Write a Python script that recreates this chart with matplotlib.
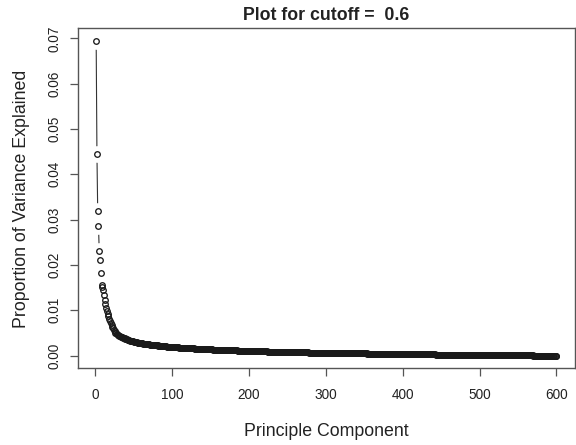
import numpy as np
import matplotlib
matplotlib.use("Agg")
import matplotlib.pyplot as plt

plt.rcParams['font.family'] = ['Liberation Sans', 'DejaVu Sans']

# proportion of variance explained, one value per principal component
prop_var = [
    0.06940, 0.04450, 0.03190, 0.02860, 0.02310, 0.02110, 0.01830, 0.01550, 0.01510, 0.01450,
    0.01340, 0.01220, 0.01140, 0.01060, 0.00990, 0.00920, 0.00870, 0.00810, 0.00770, 0.00720,
    0.00680, 0.00640, 0.00600, 0.00570, 0.00540, 0.00510, 0.00490, 0.00470, 0.00460, 0.00450,
    0.00440, 0.00430, 0.00420, 0.00412, 0.00404, 0.00396, 0.00388, 0.00380, 0.00372, 0.00365,
    0.00358, 0.00352, 0.00346, 0.00340, 0.00335, 0.00330, 0.00325, 0.00320, 0.00315, 0.00310,
    0.00306, 0.00302, 0.00298, 0.00294, 0.00290, 0.00287, 0.00284, 0.00281, 0.00278, 0.00275,
    0.00272, 0.00269, 0.00266, 0.00263, 0.00260, 0.00257, 0.00255, 0.00252, 0.00250, 0.00247,
    0.00245, 0.00243, 0.00241, 0.00239, 0.00237, 0.00235, 0.00233, 0.00231, 0.00229, 0.00227,
    0.00225, 0.00223, 0.00221, 0.00219, 0.00217, 0.00215, 0.00213, 0.00211, 0.00209, 0.00207,
    0.00205, 0.00204, 0.00202, 0.00200, 0.00199, 0.00197, 0.00196, 0.00194, 0.00193, 0.00191,
    0.00190, 0.00189, 0.00187, 0.00186, 0.00185, 0.00183, 0.00182, 0.00181, 0.00180, 0.00178,
    0.00177, 0.00176, 0.00175, 0.00174, 0.00172, 0.00171, 0.00170, 0.00169, 0.00168, 0.00167,
    0.00166, 0.00165, 0.00164, 0.00163, 0.00162, 0.00161, 0.00160, 0.00159, 0.00158, 0.00157,
    0.00156, 0.00155, 0.00154, 0.00153, 0.00152, 0.00151, 0.00150, 0.00149, 0.00148, 0.00147,
    0.00146, 0.00145, 0.00145, 0.00144, 0.00143, 0.00142, 0.00141, 0.00140, 0.00140, 0.00139,
    0.00138, 0.00137, 0.00136, 0.00136, 0.00135, 0.00134, 0.00133, 0.00133, 0.00132, 0.00131,
    0.00130, 0.00130, 0.00129, 0.00128, 0.00127, 0.00127, 0.00126, 0.00125, 0.00125, 0.00124,
    0.00123, 0.00123, 0.00122, 0.00121, 0.00121, 0.00120, 0.00119, 0.00119, 0.00118, 0.00117,
    0.00117, 0.00116, 0.00115, 0.00115, 0.00114, 0.00113, 0.00113, 0.00112, 0.00111, 0.00111,
    0.00110, 0.00110, 0.00109, 0.00108, 0.00108, 0.00107, 0.00107, 0.00106, 0.00105, 0.00105,
    0.00104, 0.00104, 0.00103, 0.00103, 0.00102, 0.00101, 0.00101, 0.00100, 0.00100, 0.00099,
    0.00099, 0.00098, 0.00098, 0.00097, 0.00097, 0.00096, 0.00096, 0.00095, 0.00095, 0.00094,
    0.00094, 0.00093, 0.00093, 0.00092, 0.00092, 0.00091, 0.00091, 0.00090, 0.00090, 0.00089,
    0.00089, 0.00089, 0.00088, 0.00088, 0.00087, 0.00087, 0.00086, 0.00086, 0.00086, 0.00085,
    0.00085, 0.00084, 0.00084, 0.00083, 0.00083, 0.00083, 0.00082, 0.00082, 0.00081, 0.00081,
    0.00081, 0.00080, 0.00080, 0.00079, 0.00079, 0.00079, 0.00078, 0.00078, 0.00077, 0.00077,
    0.00077, 0.00076, 0.00076, 0.00075, 0.00075, 0.00075, 0.00074, 0.00074, 0.00074, 0.00073,
    0.00073, 0.00073, 0.00072, 0.00072, 0.00071, 0.00071, 0.00071, 0.00070, 0.00070, 0.00070,
    0.00069, 0.00069, 0.00069, 0.00068, 0.00068, 0.00068, 0.00067, 0.00067, 0.00067, 0.00066,
    0.00066, 0.00066, 0.00065, 0.00065, 0.00065, 0.00064, 0.00064, 0.00064, 0.00063, 0.00063,
    0.00063, 0.00063, 0.00062, 0.00062, 0.00062, 0.00061, 0.00061, 0.00061, 0.00061, 0.00060,
    0.00060, 0.00060, 0.00059, 0.00059, 0.00059, 0.00059, 0.00058, 0.00058, 0.00058, 0.00057,
    0.00057, 0.00057, 0.00057, 0.00056, 0.00056, 0.00056, 0.00055, 0.00055, 0.00055, 0.00055,
    0.00054, 0.00054, 0.00054, 0.00054, 0.00053, 0.00053, 0.00053, 0.00052, 0.00052, 0.00052,
    0.00052, 0.00051, 0.00051, 0.00051, 0.00051, 0.00050, 0.00050, 0.00050, 0.00050, 0.00049,
    0.00049, 0.00049, 0.00049, 0.00048, 0.00048, 0.00048, 0.00048, 0.00047, 0.00047, 0.00047,
    0.00047, 0.00046, 0.00046, 0.00046, 0.00046, 0.00045, 0.00045, 0.00045, 0.00045, 0.00044,
    0.00044, 0.00044, 0.00044, 0.00043, 0.00043, 0.00043, 0.00043, 0.00042, 0.00042, 0.00042,
    0.00042, 0.00041, 0.00041, 0.00041, 0.00041, 0.00040, 0.00040, 0.00040, 0.00040, 0.00039,
    0.00039, 0.00039, 0.00039, 0.00038, 0.00038, 0.00038, 0.00038, 0.00037, 0.00037, 0.00037,
    0.00037, 0.00036, 0.00036, 0.00036, 0.00036, 0.00035, 0.00035, 0.00035, 0.00035, 0.00034,
    0.00034, 0.00034, 0.00034, 0.00033, 0.00033, 0.00033, 0.00033, 0.00032, 0.00032, 0.00032,
    0.00032, 0.00031, 0.00031, 0.00031, 0.00031, 0.00030, 0.00030, 0.00030, 0.00030, 0.00029,
    0.00029, 0.00029, 0.00029, 0.00028, 0.00028, 0.00028, 0.00028, 0.00027, 0.00027, 0.00027,
    0.00027, 0.00027, 0.00026, 0.00026, 0.00026, 0.00026, 0.00026, 0.00025, 0.00025, 0.00025,
    0.00025, 0.00025, 0.00024, 0.00024, 0.00024, 0.00024, 0.00024, 0.00023, 0.00023, 0.00023,
    0.00023, 0.00023, 0.00022, 0.00022, 0.00022, 0.00022, 0.00022, 0.00021, 0.00021, 0.00021,
    0.00021, 0.00021, 0.00021, 0.00020, 0.00020, 0.00020, 0.00020, 0.00020, 0.00020, 0.00019,
    0.00019, 0.00019, 0.00019, 0.00019, 0.00019, 0.00018, 0.00018, 0.00018, 0.00018, 0.00018,
    0.00018, 0.00017, 0.00017, 0.00017, 0.00017, 0.00017, 0.00017, 0.00016, 0.00016, 0.00016,
    0.00016, 0.00016, 0.00016, 0.00015, 0.00015, 0.00015, 0.00015, 0.00015, 0.00015, 0.00014,
    0.00014, 0.00014, 0.00014, 0.00014, 0.00014, 0.00013, 0.00013, 0.00013, 0.00013, 0.00013,
    0.00013, 0.00012, 0.00012, 0.00012, 0.00012, 0.00012, 0.00012, 0.00011, 0.00011, 0.00011,
    0.00011, 0.00011, 0.00011, 0.00010, 0.00010, 0.00010, 0.00010, 0.00010, 0.00010, 0.00009,
    0.00009, 0.00009, 0.00009, 0.00009, 0.00009, 0.00008, 0.00008, 0.00008, 0.00008, 0.00008,
    0.00008, 0.00007, 0.00007, 0.00007, 0.00007, 0.00007, 0.00007, 0.00006, 0.00006, 0.00006,
    0.00006, 0.00006, 0.00006, 0.00005, 0.00005, 0.00005, 0.00005, 0.00005, 0.00005, 0.00004,
    0.00004, 0.00004, 0.00004, 0.00004, 0.00004, 0.00003, 0.00003, 0.00003, 0.00003, 0.00003,
    0.00003, 0.00003, 0.00002, 0.00002, 0.00002, 0.00002, 0.00002, 0.00002, 0.00002, 0.00002,
    0.00001, 0.00001, 0.00001, 0.00001, 0.00001, 0.00001, 0.00001, 0.00001, 0.00001, 0.00001,
]
components = np.arange(1, len(prop_var) + 1)
cutoff = 0.6

x_ticks = [0, 100, 200, 300, 400, 500, 600]
y_ticks = [0.00, 0.01, 0.02, 0.03, 0.04, 0.05, 0.06, 0.07]

fig = plt.figure(figsize=(5.76, 4.45), dpi=100)
ax = fig.add_axes([0.135, 0.1724, 0.863, 0.7636])

# R type="b": line, white gap around each point, then open circles
ax.plot(components, prop_var, color='#333333', lw=0.8, zorder=1)
ax.plot(components, prop_var, 'o', ms=12, mfc='white', mec='none', zorder=2)
ax.plot(components, prop_var, 'o', ms=4.0, mfc='none', mec='#1a1a1a', mew=0.95, zorder=3)

n = len(prop_var)
pad_x = 0.04 * (n - 1)
ax.set_xlim(1 - pad_x, n + pad_x)
vmax = max(prop_var)
ax.set_ylim(-0.04 * vmax, vmax + 0.04 * vmax)

ax.set_xticks(x_ticks)
ax.set_xticklabels([str(v) for v in x_ticks])
ax.set_yticks(y_ticks)
ax.set_yticklabels([f"{v:.2f}" for v in y_ticks], rotation=90, va='center')

ax.tick_params(direction='out', length=6, width=0.9, color='#555555',
               labelsize=9.8, labelcolor='#222222')
ax.tick_params(axis='x', pad=8)
ax.tick_params(axis='y', pad=6)
for s in ax.spines.values():
    s.set_color('#555555')
    s.set_linewidth(1.0)

ax.set_xlabel("Principle Component", fontsize=12.8, color='#222222', labelpad=15)
ax.set_ylabel("Proportion of Variance Explained", fontsize=12.8, color='#222222', labelpad=12.5)
ax.set_title(f"Plot for cutoff =  {cutoff}", fontsize=12.8, fontweight='bold',
             color='#222222', pad=6)

fig.savefig("out.png", dpi=100)
